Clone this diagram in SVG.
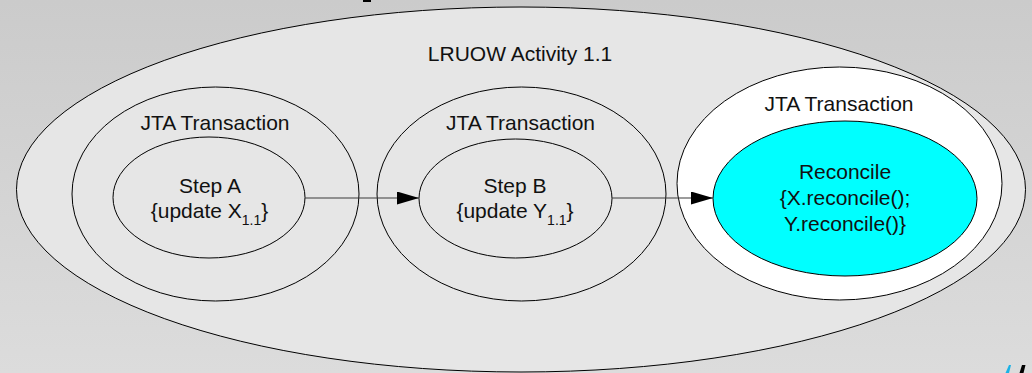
<svg xmlns="http://www.w3.org/2000/svg" width="1032" height="373" viewBox="0 0 1032 373">
  <defs>
    <linearGradient id="bg" x1="0" y1="0" x2="0" y2="1">
      <stop offset="0" stop-color="#cbcbcb"/>
      <stop offset="1" stop-color="#dcdcdc"/>
    </linearGradient>
    <marker id="arrow" viewBox="0 0 22 13" refX="22" refY="6.5" markerWidth="22" markerHeight="13" markerUnits="userSpaceOnUse" orient="auto">
      <path d="M0,0 L22,6.5 L0,13 Z" fill="#000"/>
    </marker>
    <style>
      .ring { fill: none; stroke: #000; stroke-width: 1; }
      .label { font-family: "Liberation Sans", Arial, sans-serif; font-size: 21px; fill: #111; text-anchor: middle; }
      .sub { font-size: 14px; }
      .flow { stroke: #3a3a3a; stroke-width: 1.2; fill: none; marker-end: url(#arrow); }
    </style>
  </defs>

  <!-- backdrop -->
  <rect x="0" y="0" width="1032" height="373" fill="url(#bg)"/>
  <rect x="363" y="0" width="8" height="2" fill="#000"/>
  <polygon points="1009,365 1011,365 1009,373 1005.5,373" fill="#1ab2e6"/>
  <polygon points="1022,365 1025.5,365 1023.5,373 1019.5,373" fill="#000"/>

  <!-- activity scope -->
  <g id="activity">
    <ellipse cx="521" cy="189.5" rx="504.5" ry="182.5" fill="#e6e6e6" stroke="#000" stroke-width="1"/>
    <text class="label" x="520" y="61">LRUOW Activity 1.1</text>
  </g>

  <!-- first transaction -->
  <g id="tx-a">
    <ellipse class="ring" cx="215.5" cy="194" rx="143.5" ry="107"/>
    <text class="label" x="215" y="130">JTA Transaction</text>
  </g>
  <g id="step-a">
    <ellipse class="ring" cx="209" cy="197.5" rx="96" ry="60.5"/>
    <text class="label" x="210" y="193">Step A</text>
    <text class="label" x="209.5" y="218">{update X<tspan class="sub" dy="7">1.1</tspan><tspan dy="-7">}</tspan></text>
  </g>

  <!-- second transaction -->
  <g id="tx-b">
    <ellipse class="ring" cx="521.5" cy="194" rx="144.5" ry="107"/>
    <text class="label" x="520.5" y="130">JTA Transaction</text>
  </g>
  <g id="step-b">
    <ellipse class="ring" cx="515.5" cy="198.5" rx="96.5" ry="59.5"/>
    <text class="label" x="515" y="193">Step B</text>
    <text class="label" x="515" y="218">{update Y<tspan class="sub" dy="7">1.1</tspan><tspan dy="-7">}</tspan></text>
  </g>

  <!-- reconciling transaction -->
  <g id="tx-reconcile">
    <ellipse cx="839.5" cy="183.5" rx="162.5" ry="116.5" fill="#fff" stroke="#000" stroke-width="1"/>
    <text class="label" x="839" y="111">JTA Transaction</text>
  </g>
  <g id="reconcile">
    <ellipse cx="845" cy="198.5" rx="132" ry="77.5" fill="#00ffff" stroke="#000" stroke-width="1"/>
    <text class="label" x="845" y="179">Reconcile</text>
    <text class="label" x="845" y="205">{X.reconcile();</text>
    <text class="label" x="845" y="231">Y.reconcile()}</text>
  </g>

  <!-- connectors -->
  <g id="connectors">
    <line class="flow" x1="305" y1="198" x2="419" y2="198"/>
    <line class="flow" x1="612" y1="198" x2="713" y2="198"/>
  </g>
</svg>
